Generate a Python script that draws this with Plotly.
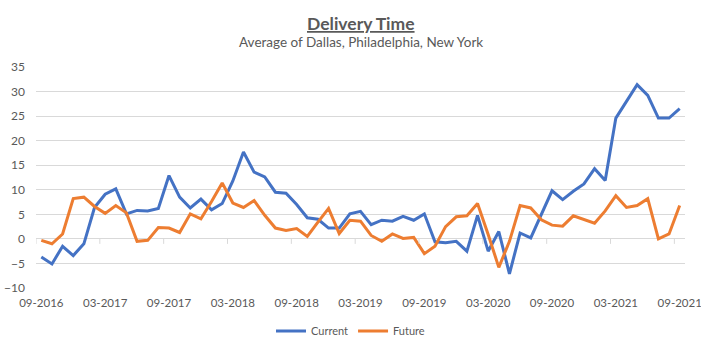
import plotly.graph_objects as go

months = ["09-2016","10-2016","11-2016","12-2016","01-2017","02-2017","03-2017","04-2017","05-2017","06-2017","07-2017","08-2017",
          "09-2017","10-2017","11-2017","12-2017","01-2018","02-2018","03-2018","04-2018","05-2018","06-2018","07-2018","08-2018",
          "09-2018","10-2018","11-2018","12-2018","01-2019","02-2019","03-2019","04-2019","05-2019","06-2019","07-2019","08-2019",
          "09-2019","10-2019","11-2019","12-2019","01-2020","02-2020","03-2020","04-2020","05-2020","06-2020","07-2020","08-2020",
          "09-2020","10-2020","11-2020","12-2020","01-2021","02-2021","03-2021","04-2021","05-2021","06-2021","07-2021","08-2021",
          "09-2021"]

current = [-3.7, -5.1, -1.5, -3.4, -1.0, 6.4, 9.1, 10.2, 5.1, 5.8, 5.7, 6.2,
           12.9, 8.5, 6.3, 8.1, 5.9, 7.2, 11.8, 17.7, 13.6, 12.6, 9.5, 9.3,
           7.0, 4.3, 4.0, 2.2, 2.2, 5.1, 5.6, 2.9, 3.8, 3.6, 4.6, 3.8,
           5.1, -0.6, -0.8, -0.5, -2.5, 4.8, -2.5, 1.5, -7.1, 1.2, 0.2, 4.9,
           9.8, 8.0, 9.7, 11.2, 14.3, 11.9, 24.6, 28.0, 31.4, 29.2, 24.6, 24.6,
           26.5]

future = [-0.3, -1.0, 1.0, 8.2, 8.5, 6.6, 5.2, 6.8, 5.3, -0.5, -0.3, 2.3,
          2.2, 1.3, 5.1, 4.1, 7.6, 11.4, 7.3, 6.4, 7.8, 4.8, 2.2, 1.7,
          2.1, 0.5, 3.4, 6.2, 1.1, 3.8, 3.6, 0.7, -0.5, 1.0, 0.1, 0.3,
          -3.0, -1.5, 2.5, 4.5, 4.7, 7.2, 0.9, -5.8, -0.5, 6.8, 6.3, 3.9,
          2.8, 2.6, 4.7, 4.0, 3.2, 5.7, 8.8, 6.4, 6.8, 8.2, 0.0, 1.0,
          6.8]

y_ticks = [-10, -5, 0, 5, 10, 15, 20, 25, 30, 35]

FONT = "Lato"
GREY = "#595959"
GRID = "#d9d9d9"

idx = list(range(len(months)))

fig = go.Figure()
fig.add_trace(go.Scatter(x=idx, y=current, mode="lines", name="Current",
                         line=dict(color="#4472C4", width=3)))
fig.add_trace(go.Scatter(x=idx, y=future, mode="lines", name="Future",
                         line=dict(color="#ED7D31", width=3)))

label_idx = idx[::6]
# tick marks between categories, hanging from the zero line
shapes = []
for k in range(-1, len(months), 6):
    xp = k + 0.5
    if xp > len(months) - 1:
        continue
    shapes.append(dict(type="line", xref="x", yref="y", x0=xp, x1=xp,
                       ysizemode="pixel", yanchor=0, y0=0, y1=-5,
                       line=dict(color=GRID, width=1)))

fig.update_layout(
    width=701, height=351,
    margin=dict(l=36, r=16, t=67, b=63, autoexpand=False),
    paper_bgcolor="white", plot_bgcolor="white",
    font=dict(family=FONT, color=GREY, size=12),
    showlegend=True,
    legend=dict(orientation="h", xref="container", x=0.5, xanchor="center",
                y=-0.195, yanchor="middle",
                font=dict(size=11, color=GREY), itemwidth=30, tracegroupgap=0),
    xaxis=dict(range=[-0.5, len(months) - 0.5], tickmode="array",
               tickvals=label_idx, ticktext=[months[i] for i in label_idx],
               showgrid=False, zeroline=False, showline=False, ticks="",
               ticklabeloverflow="allow", ticklabelstandoff=6,
               tickfont=dict(size=11.5, color=GREY)),
    yaxis=dict(range=[-10, 35], tickmode="array", tickvals=y_ticks,
               showgrid=True, gridcolor=GRID, gridwidth=1, zeroline=False,
               showline=False, ticks="", ticklabelstandoff=10,
               tickfont=dict(size=12, color=GREY)),
    shapes=shapes,
    annotations=[
        dict(text="<b><u>Delivery Time</u></b>", xref="paper", yref="paper",
             x=0.5, y=1, yshift=44, xanchor="center", yanchor="middle",
             showarrow=False, font=dict(size=17.5, color=GREY, family=FONT),
             ),
        dict(text="Average of Dallas, Philadelphia, New York", xref="paper", yref="paper",
             x=0.5, y=1, yshift=25, xanchor="center", yanchor="middle",
             showarrow=False, font=dict(size=13.5, color=GREY, family=FONT)),
    ],
)

fig.write_html("out.html")
